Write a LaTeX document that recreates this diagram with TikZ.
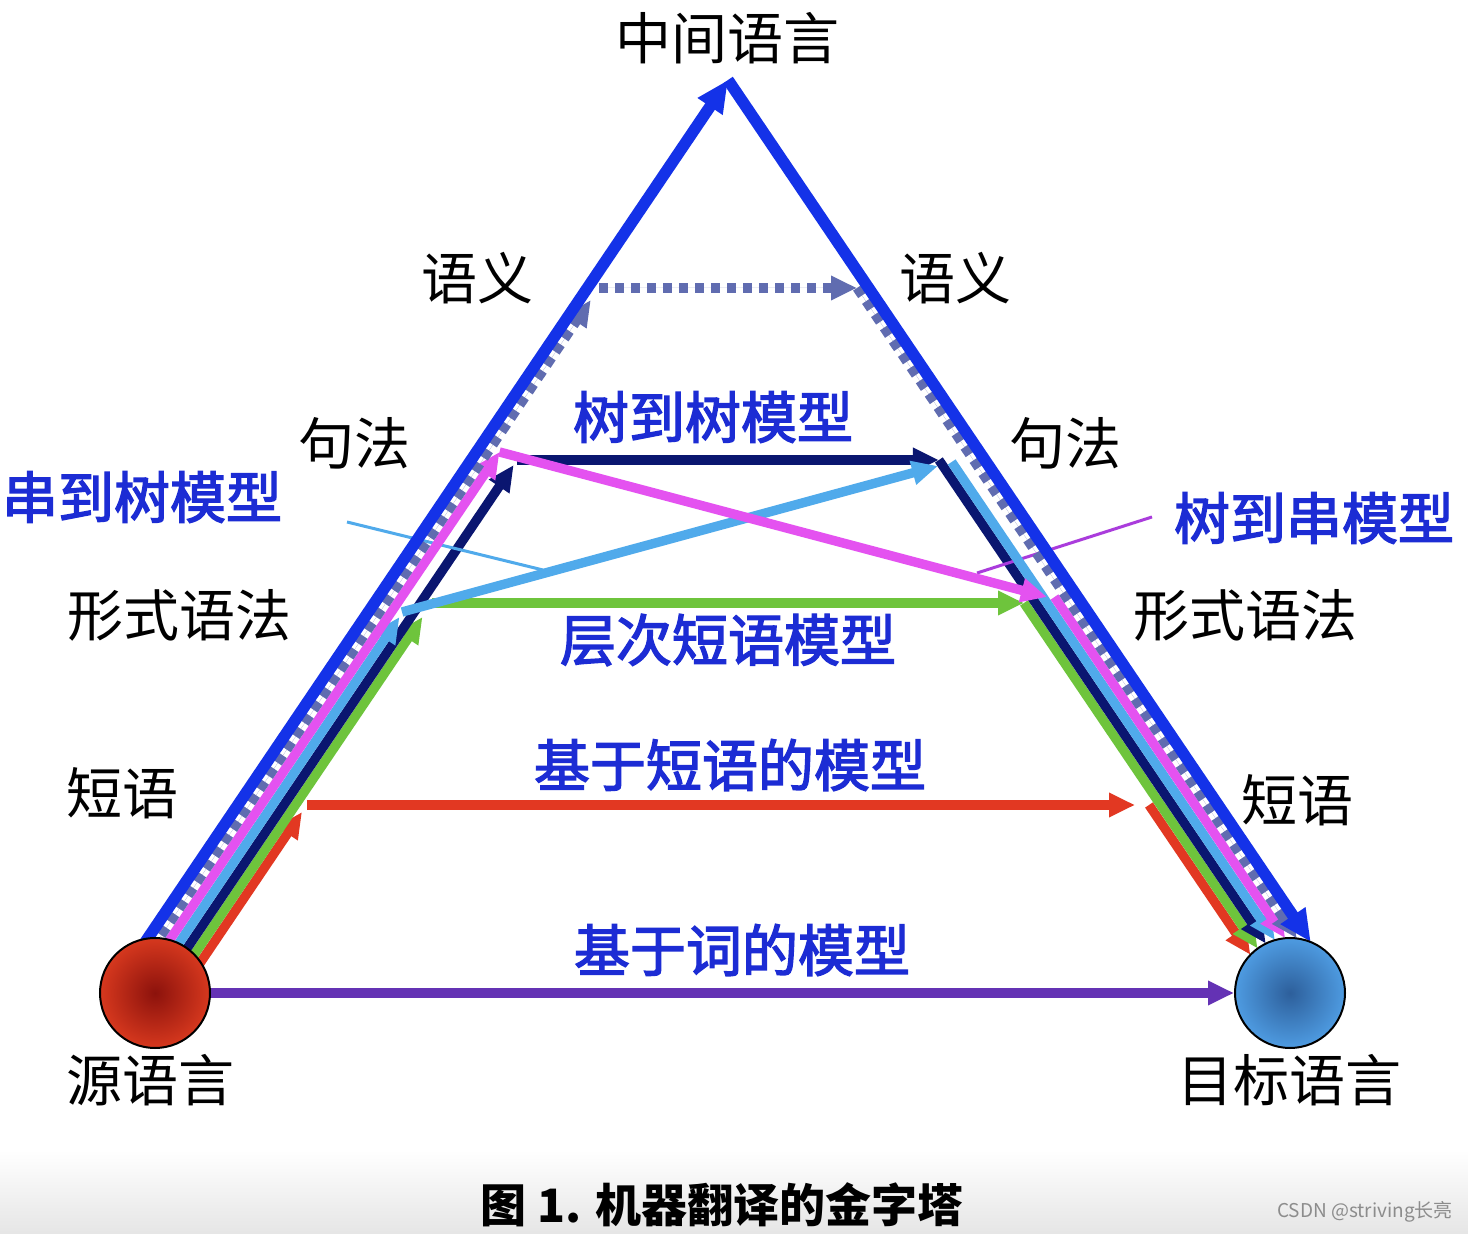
\documentclass[tikz,border=0pt]{standalone}
\usepackage{fontspec}
\newfontfamily\cjk{Noto Sans CJK SC}
\newfontfamily\cjkmd[FakeBold=2.5]{Noto Sans CJK SC}
\usetikzlibrary{arrows.meta}
\pgfdeclarelayer{bg}
\pgfdeclarelayer{lines}
\pgfsetlayers{bg,lines,main}
\definecolor{cBlue}{RGB}{20,50,232}
\definecolor{cDash}{RGB}{96,108,176}
\definecolor{cMag}{RGB}{228,82,240}
\definecolor{cLight}{RGB}{80,170,235}
\definecolor{cNavy}{RGB}{10,22,112}
\definecolor{cGreen}{RGB}{110,196,60}
\definecolor{cRed}{RGB}{226,56,34}
\definecolor{cPurple}{RGB}{100,50,180}
\definecolor{cText}{RGB}{28,44,212}
\definecolor{cThinMag}{RGB}{170,60,220}
\begin{document}
\begin{tikzpicture}[x=0.5pt,y=-0.5pt,
  tip/.style={-{Triangle[length=13pt,width=11.5pt]}},
  bigtip/.style={-{Triangle[length=16pt,width=14pt]}},
  band/.style={line width=4.7pt},
  dashln/.style={line width=4.7pt, draw=cDash, dash pattern=on 4.5pt off 3.5pt},
  thin/.style={line width=1.5pt},
  lbl/.style={inner sep=0pt, font=\cjk\fontsize{28pt}{30pt}\selectfont, text=black},
  mdl/.style={inner sep=0pt, font=\cjkmd\fontsize{28pt}{30pt}\selectfont, text=cText},
  ball/.style={circle, draw=black, line width=1pt, minimum size=55pt, inner sep=0pt, shading=radial}]
\useasboundingbox (0,0) rectangle (1468,1234);
\begin{pgfonlayer}{bg}
\fill[white] (0,0) rectangle (1468,1234);
\shade[top color=white, bottom color=black!10] (0,1150) rectangle (1468,1234);
\end{pgfonlayer}

% circles
\node[ball, inner color={rgb,255:red,140;green,18;blue,12}, outer color={rgb,255:red,214;green,56;blue,30}] (src) at (155,993) {};
\node[ball, inner color={rgb,255:red,45;green,95;blue,155}, outer color={rgb,255:red,78;green,155;blue,225}] (tgt) at (1290,993) {};

% coordinates: start points (inside source), ends (on target)
\coordinate (S0) at (123,975);   \coordinate (E0) at (1310.8,942.1);
\coordinate (S1) at (134.5,975); \coordinate (E1) at (1296.8,938.4);
\coordinate (S2) at (146,975);   \coordinate (E2) at (1285.2,938.2);
\coordinate (S3) at (157.5,975); \coordinate (E3) at (1274.9,940.1);
\coordinate (S4) at (169,975);   \coordinate (E4) at (1265.8,943.6);
\coordinate (S5) at (180.5,975); \coordinate (E5) at (1257.6,948.5);
\coordinate (S6) at (192,975);   \coordinate (E6) at (1250.4,954.8);
\coordinate (A) at (728,80);
% dashed (semantics)
\coordinate (U1) at (590.8,300); \coordinate (H1) at (599,288); \coordinate (T1) at (857,288);
% magenta (tree to string)
\coordinate (U2) at (499.5,452); \coordinate (T2) at (1047,597); \coordinate (D2) at (1054.5,597);
% light blue (string to tree)
\coordinate (U3) at (399.5,617); \coordinate (H3) at (402,612); \coordinate (T3) at (938,466); \coordinate (D3) at (951.7,462);
% navy (tree to tree)
\coordinate (U4) at (513.7,465); \coordinate (H4) at (517,460); \coordinate (T4) at (938.9,460);
% green (hierarchical phrase)
\coordinate (U5) at (422.5,617); \coordinate (H5) at (431.9,603); \coordinate (T5) at (1024,603);
% red (phrase based)
\coordinate (U6) at (302,812); \coordinate (H6) at (306.9,805); \coordinate (T6) at (1135,805); \coordinate (D6) at (1149,805);
% callout ends
\coordinate (c1a) at (347,522); \coordinate (c1b) at (543,570);
\coordinate (c2a) at (1152,517); \coordinate (c2b) at (977,573);

\begin{pgfonlayer}{lines}
% word-based
\draw[band, cPurple, tip] (src.east) -- (tgt.west);
% red
\draw[band, cRed, tip] (S6) -- (U6);
\draw[band, cRed, tip] (H6) -- (T6);
\draw[band, cRed, tip] (D6) -- (E6);
% green
\draw[band, cGreen, tip] (S5) -- (U5);
\draw[band, cGreen, tip] (H5) -- (T5);
\draw[band, cGreen, tip] (T5) -- (E5);
% navy
\draw[band, cNavy, tip] (S4) -- (U4);
\draw[band, cNavy, tip] (H4) -- (T4);
\draw[band, cNavy, tip] (T4) -- (E4);
% callouts
\draw[thin, cLight] (c1a) -- (c1b);
\draw[thin, cThinMag] (c2a) -- (c2b);
% light blue
\draw[band, cLight, tip] (S3) -- (U3);
\draw[band, cLight, tip] (H3) -- (T3);
\draw[band, cLight, tip] (D3) -- (E3);
% magenta
\draw[band, cMag, tip] (S2) -- (U2);
\draw[band, cMag, tip] (U2) -- (T2);
\draw[band, cMag, tip] (D2) -- (E2);
% dashed
\draw[dashln, tip, fill=cDash] (S1) -- (U1);
\draw[dashln, tip, fill=cDash] (H1) -- (T1);
\draw[dashln, tip, fill=cDash] (T1) -- (E1);
% blue outer
\draw[line width=5.8pt, cBlue, bigtip] (S0) -- (A);
\draw[line width=5.8pt, cBlue, bigtip] (A) -- (E0);
\end{pgfonlayer}

% labels
\node[lbl] (top) at (727,38) {中间语言};
\node[lbl] (semL) at (477,278) {语义};
\node[lbl] (semR) at (955,278) {语义};
\node[lbl] (synL) at (354,443) {句法};
\node[lbl] (synR) at (1065,443) {句法};
\node[lbl] (fgL) at (180,615) {形式语法};
\node[lbl] (fgR) at (1245,615) {形式语法};
\node[lbl] (phL) at (122,793) {短语};
\node[lbl] (phR) at (1297,800) {短语};
\node[lbl] (srcl) at (150,1080) {源语言};
\node[lbl] (tgtl) at (1289,1080) {目标语言};
\node[mdl] (m1) at (142,497) {串到树模型};
\node[mdl] (m2) at (1314,518) {树到串模型};
\node[mdl] (m3) at (713,417) {树到树模型};
\node[mdl] (m4) at (728,640) {层次短语模型};
\node[mdl] (m5) at (730,765) {基于短语的模型};
\node[mdl] (m6) at (742,950) {基于词的模型};
\node[inner sep=0pt, font=\cjk\bfseries\fontsize{23pt}{25pt}\selectfont] (cap) at (722,1205) {图 1. 机器翻译的金字塔};
\node[inner sep=0pt, font=\cjk\fontsize{9.5pt}{11pt}\selectfont, text=black!45] (wm) at (1365,1212) {CSDN @striving长亮};
\end{tikzpicture}
\end{document}
